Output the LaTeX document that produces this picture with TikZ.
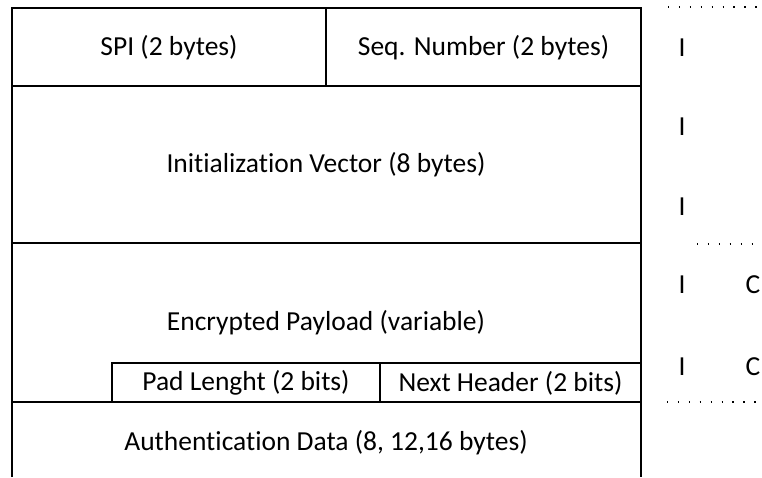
\documentclass[tikz,border=0pt]{standalone}
\usepackage{fontspec}
\setmainfont{Carlito}[Ligatures={NoCommon}]
\begin{document}
\begin{tikzpicture}[x=1pt,y=-1pt,
  frame/.style={line width=1.8pt,black},
  field/.style={font=\fontsize{27.5}{31}\selectfont,inner sep=0pt,anchor=center},
  tag/.style={font=\fontsize{27.5}{31}\selectfont,inner sep=0pt,anchor=center},
  dotrow/.style={line width=1.6pt,dash pattern=on 1.4pt off 9.5pt,line cap=butt}]
\useasboundingbox (0,0) rectangle (762,477);
% packet outline, open at the bottom
\draw[frame] (12,477) -- (12,8) -- (641,8) -- (641,477);
\draw[frame] (12,86) -- (641,86);
\draw[frame] (326,8) -- (326,86);
\draw[frame] (12,243) -- (641,243);
\draw[frame] (12,402) -- (641,402);
% trailer fields inside the payload
\draw[frame] (112,402) -- (112,363) -- (641,363);
\draw[frame] (380,363) -- (380,402);
% field labels
\node[field] (spi) at (169,48) {SPI (2 bytes)};
\node[field] (seq) at (483.5,48) {Seq. Number (2 bytes)};
\node[field] (iv) at (326,165) {Initialization Vector (8 bytes)};
\node[field] (pl) at (326,323) {Encrypted Payload (variable)};
\node[field] (pad) at (246,383) {Pad Lenght (2 bits)};
\node[field] (nh) at (510.5,383) {Next Header (2 bits)};
\node[field] (ad) at (326,443) {Authentication Data (8, 12,16 bytes)};
% coverage markers
\foreach \y/\n in {48/a,127/b,207/c,285/d,367/e}
  \node[tag] (i\n) at (682,\y) {I};
\node[tag] (cd) at (753,285) {C};
\node[tag] (ce) at (753,367) {C};
% dotted separators
\draw[dotrow] (668,7) -- (762,7);
\draw[dotrow] (697,244) -- (762,244);
\draw[dotrow] (667,402) -- (762,402);
\end{tikzpicture}
\end{document}
